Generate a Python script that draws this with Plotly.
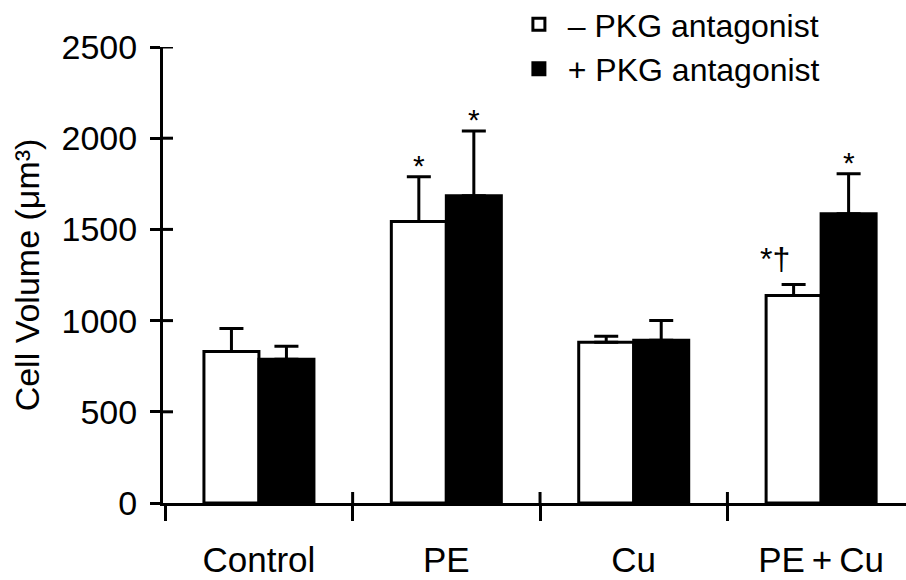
import plotly.graph_objects as go

categories = ["Control", "PE", "Cu", "PE + Cu"]
tick_text = ["Control", "PE", "Cu", "PE\u2009+\u2009Cu"]
minus_vals = [831, 1543, 881, 1138]
minus_err = [126, 246, 33, 60]
plus_vals = [788, 1685, 892, 1586]
plus_err = [71, 355, 109, 219]
minus_marks = ["", "*", "", "*†"]
plus_marks = ["", "*", "", "*"]
y_ticks = [0, 500, 1000, 1500, 2000, 2500]

FONT = "Liberation Sans, Arial, Helvetica, sans-serif"
BARGAP = 0.413

fig = go.Figure()
fig.add_trace(go.Bar(
    x=categories, y=minus_vals, name="\u00a0– PKG antagonist",
    marker=dict(color="white", line=dict(color="black", width=3)),
    error_y=dict(type="data", symmetric=False, array=minus_err,
                 arrayminus=[0] * len(minus_err), color="black",
                 thickness=3, width=12),
))
fig.add_trace(go.Bar(
    x=categories, y=plus_vals, name="\u00a0+ PKG antagonist",
    marker=dict(color="black", line=dict(color="black", width=3)),
    error_y=dict(type="data", symmetric=False, array=plus_err,
                 arrayminus=[0] * len(plus_err), color="black",
                 thickness=3, width=12),
))

off = (1 - BARGAP) / 4
annotations = []
for i in range(len(categories)):
    for vals, errs, marks, sgn in ((minus_vals, minus_err, minus_marks, -1),
                                   (plus_vals, plus_err, plus_marks, 1)):
        m = marks[i]
        if not m:
            continue
        if m == "*":
            annotations.append(dict(
                x=i + sgn * off, y=vals[i] + errs[i], xref="x", yref="y",
                text=m, showarrow=False, yanchor="bottom", yshift=-7,
                font=dict(family=FONT, size=30, color="black")))
        else:
            annotations.append(dict(
                x=i + sgn * off, y=vals[i] + errs[i], xref="x", yref="y",
                text=m, showarrow=False, yanchor="bottom", yshift=5, xshift=-19,
                font=dict(family=FONT, size=32, color="black")))

shapes = []
for v in y_ticks[1:]:
    shapes.append(dict(type="line", xref="paper", xsizemode="pixel", xanchor=0,
                       x0=0, x1=10, yref="y", y0=v, y1=v,
                       line=dict(color="black", width=3)))
for b in [0.5, 1.5, 2.5]:
    shapes.append(dict(type="line", xref="x", x0=b, x1=b, yref="paper",
                       ysizemode="pixel", yanchor=0, y0=0, y1=11,
                       line=dict(color="black", width=3)))

fig.update_layout(
    width=906, height=580,
    margin=dict(l=163, r=0, t=47, b=77, autoexpand=False),
    paper_bgcolor="white", plot_bgcolor="white",
    barmode="group", bargap=BARGAP, bargroupgap=0,
    font=dict(family=FONT, color="black"),
    showlegend=True,
    legend=dict(x=0.479, y=1.11, xanchor="left", yanchor="top",
                font=dict(family=FONT, size=32, color="black"),
                bgcolor="rgba(0,0,0,0)", traceorder="normal"),
    annotations=annotations,
    shapes=shapes,
    xaxis=dict(type="category", range=[-0.512, 3.453],
               tickvals=categories, ticktext=tick_text,
               showline=True, linewidth=3, linecolor="black",
               ticks="outside", tickson="boundaries", ticklen=15,
               tickwidth=3, tickcolor="black", showgrid=False, zeroline=False,
               ticklabelstandoff=24,
               tickfont=dict(family=FONT, size=35, color="black")),
    yaxis=dict(range=[0, 2500], tickvals=y_ticks,
               showline=True, linewidth=3, linecolor="black",
               ticks="outside", ticklen=10, tickwidth=3, tickcolor="black",
               showgrid=False, zeroline=False, ticklabelstandoff=6,
               tickfont=dict(family=FONT, size=34, color="black"),
               title=dict(text="Cell Volume (μm³)", standoff=12,
                          font=dict(family=FONT, size=34, color="black"))),
)

fig.write_html("out.html")
